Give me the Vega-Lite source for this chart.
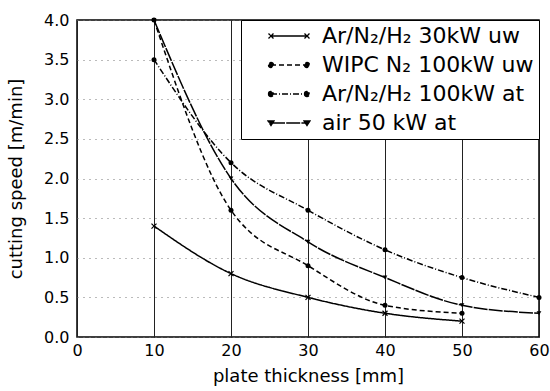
{
  "$schema": "https://vega.github.io/schema/vega-lite/v6.json",
  "width": 462,
  "height": 317,
  "autosize": {"type": "none"},
  "padding": {"left": 77, "top": 20, "right": 11, "bottom": 54},
  "config": {
    "font": "DejaVu Sans",
    "view": {"stroke": "black", "strokeWidth": 1.5},
    "axis": {"labelColor": "black", "titleColor": "black", "labelFontSize": 16, "titleFontSize": 18, "titleFontWeight": "normal", "domain": false}
  },
  "data": {
    "values": [
      {"series": "Ar/N₂/H₂ 30kW uw", "t": 10, "v": 1.4},
      {"series": "Ar/N₂/H₂ 30kW uw", "t": 20, "v": 0.8},
      {"series": "Ar/N₂/H₂ 30kW uw", "t": 30, "v": 0.5},
      {"series": "Ar/N₂/H₂ 30kW uw", "t": 40, "v": 0.3},
      {"series": "Ar/N₂/H₂ 30kW uw", "t": 50, "v": 0.2},
      {"series": "WIPC N₂ 100kW uw", "t": 10, "v": 4.0},
      {"series": "WIPC N₂ 100kW uw", "t": 20, "v": 1.6},
      {"series": "WIPC N₂ 100kW uw", "t": 30, "v": 0.9},
      {"series": "WIPC N₂ 100kW uw", "t": 40, "v": 0.4},
      {"series": "WIPC N₂ 100kW uw", "t": 50, "v": 0.3},
      {"series": "Ar/N₂/H₂ 100kW at", "t": 10, "v": 3.5},
      {"series": "Ar/N₂/H₂ 100kW at", "t": 20, "v": 2.2},
      {"series": "Ar/N₂/H₂ 100kW at", "t": 30, "v": 1.6},
      {"series": "Ar/N₂/H₂ 100kW at", "t": 40, "v": 1.1},
      {"series": "Ar/N₂/H₂ 100kW at", "t": 50, "v": 0.75},
      {"series": "Ar/N₂/H₂ 100kW at", "t": 60, "v": 0.5},
      {"series": "air 50 kW at", "t": 10, "v": 4.0},
      {"series": "air 50 kW at", "t": 20, "v": 2.0},
      {"series": "air 50 kW at", "t": 30, "v": 1.2},
      {"series": "air 50 kW at", "t": 40, "v": 0.75},
      {"series": "air 50 kW at", "t": 50, "v": 0.4},
      {"series": "air 50 kW at", "t": 60, "v": 0.3}
    ]
  },
  "encoding": {
    "x": {
      "field": "t", "type": "quantitative",
      "scale": {"domain": [0, 60], "nice": false},
      "axis": {"values": [0, 10, 20, 30, 40, 50, 60], "title": "plate thickness [mm]", "ticks": false, "labelPadding": 5, "titlePadding": 9, "grid": true, "gridColor": "#222", "gridWidth": 1, "labelFlush": false}
    },
    "y": {
      "field": "v", "type": "quantitative",
      "scale": {"domain": [0, 4], "nice": false},
      "axis": {"values": [0, 0.5, 1, 1.5, 2, 2.5, 3, 3.5, 4], "format": ".1f", "title": "cutting speed [m/min]", "ticks": false, "labelPadding": 8, "titlePadding": 18, "grid": true, "gridColor": "#777", "gridDash": [1, 5], "gridWidth": 1}
    }
  },
  "layer": [
    {
      "mark": {"type": "line", "interpolate": "monotone", "color": "black", "strokeWidth": 1.5},
      "encoding": {
        "strokeDash": {
          "field": "series", "type": "nominal",
          "scale": {"domain": ["Ar/N₂/H₂ 30kW uw", "WIPC N₂ 100kW uw", "Ar/N₂/H₂ 100kW at", "air 50 kW at"], "range": [[1, 0], [5, 3], [6, 2, 1, 2], [14, 1.2]]},
          "legend": {
            "title": null, "orient": "top-right", "offset": 0,
            "strokeColor": "black", "fillColor": "white", "padding": 5,
            "labelFontSize": 22, "labelColor": "black", "labelOffset": 54, "labelLimit": 400,
            "symbolSize": 100, "symbolStrokeWidth": 1.3, "symbolStrokeColor": "black",
            "rowPadding": 7,
            "encode": {"symbols": {"update": {
              "shape": {"signal": "datum.value === 'Ar/N₂/H₂ 30kW uw' ? 'M2.8,0L10,0M2.3,-0.5L3.3,0.5M2.3,0.5L3.3,-0.5M9.5,-0.5L10.5,0.5M9.5,0.5L10.5,-0.5' : datum.value === 'air 50 kW at' ? 'M2.8,0L10,0M2.2,-0.4L3.4,-0.4L2.8,0.5ZM9.4,-0.4L10.6,-0.4L10,0.5Z' : 'M2.8,0L10,0M2.3,0A0.5,0.5 0 1,0 3.3,0A0.5,0.5 0 1,0 2.3,0ZM9.5,0A0.5,0.5 0 1,0 10.5,0A0.5,0.5 0 1,0 9.5,0Z'"},
              "size": {"value": 100}, "fill": {"value": "black"}, "stroke": {"value": "black"}, "strokeWidth": {"value": 1.3}}}}
          }
        }
      }
    },
    {
      "transform": [{"filter": {"field": "series", "equal": "Ar/N₂/H₂ 30kW uw"}}],
      "mark": {"type": "point", "shape": "M-1,-1L1,1M-1,1L1,-1", "filled": false, "stroke": "black", "strokeWidth": 1.2, "size": 25, "opacity": 1}
    },
    {
      "transform": [{"filter": {"field": "series", "oneOf": ["WIPC N₂ 100kW uw", "Ar/N₂/H₂ 100kW at"]}}],
      "mark": {"type": "point", "shape": "circle", "filled": true, "color": "black", "size": 25, "opacity": 1}
    },
    {
      "transform": [{"filter": {"field": "series", "equal": "air 50 kW at"}}],
      "mark": {"type": "point", "shape": "triangle-down", "filled": true, "color": "black", "size": 22, "opacity": 1}
    }
  ]
}
